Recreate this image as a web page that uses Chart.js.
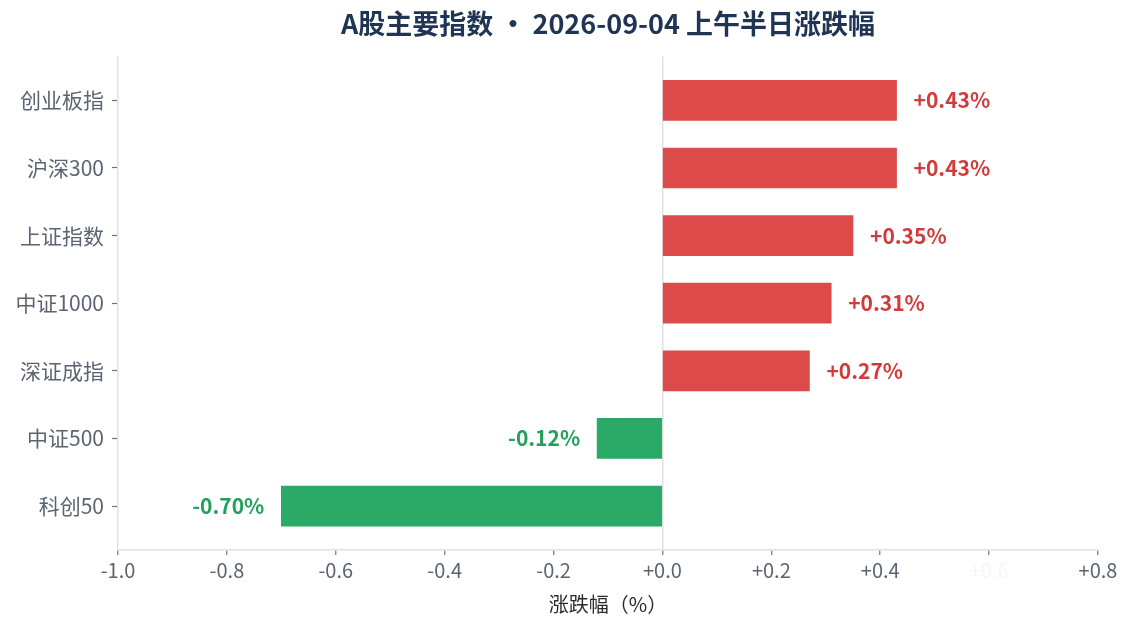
<!DOCTYPE html>
<html lang="zh-CN">
<head>
<meta charset="UTF-8" />
<title>A股主要指数 上午半日涨跌幅</title>
<script src="https://cdn.jsdelivr.net/npm/chart.js"></script>
<style>
  html, body { margin: 0; padding: 0; background: #ffffff; }
  #wrap { width: 1133px; height: 629px; }
</style>
</head>
<body>
<div id="wrap"><canvas id="chart" width="1133" height="629"></canvas></div>
<script>
// data
const categories = ["创业板指", "沪深300", "上证指数", "中证1000", "深证成指", "中证500", "科创50"];
const changes = [0.43, 0.43, 0.35, 0.31, 0.27, -0.12, -0.70];
const xTickValues = [-1.0, -0.8, -0.6, -0.4, -0.2, 0.0, 0.2, 0.4, 0.6, 0.8];
const hiddenTick = 0.6; // this tick label is washed out in the original

const FONT = "'Noto Sans CJK SC', 'Noto Sans', sans-serif";
const RED = "#dc4a4a";
const GREEN = "#2aaa66";
const RED_TXT = "#d33b3b";
const GREEN_TXT = "#22a05c";
const TICK_TXT = "#5b6572";

function fmtSigned(v, d) {
  const s = v.toFixed(d);
  return v >= 0 ? "+" + s : s;
}

// value labels beside each bar
const valueLabels = {
  id: "valueLabels",
  afterDatasetsDraw(chart) {
    const ctx = chart.ctx;
    const meta = chart.getDatasetMeta(0);
    ctx.save();
    ctx.font = "bold 21px " + FONT;
    ctx.textBaseline = "middle";
    meta.data.forEach((bar, i) => {
      const v = changes[i];
      const txt = fmtSigned(v, 2) + "%";
      if (v >= 0) {
        ctx.textAlign = "left";
        ctx.fillStyle = RED_TXT;
        ctx.fillText(txt, bar.x + 17, bar.y);
      } else {
        ctx.textAlign = "right";
        ctx.fillStyle = GREEN_TXT;
        ctx.fillText(txt, bar.x - 17, bar.y);
      }
    });
    ctx.restore();
  }
};

const ctx = document.getElementById("chart").getContext("2d");
new Chart(ctx, {
  type: "bar",
  data: {
    datasets: [{
      data: changes.map((v, i) => ({ x: v, y: i })),
      backgroundColor: changes.map(v => v >= 0 ? RED : GREEN),
      borderWidth: 0,
      barThickness: 40
    }]
  },
  options: {
    indexAxis: "y",
    responsive: false,
    animation: false,
    layout: { padding: { top: 0, right: 35, bottom: 0, left: 0 } },
    plugins: {
      legend: { display: false },
      tooltip: { enabled: false },
      title: {
        display: true,
        fullSize: false,
        text: "A股主要指数 · 2026-09-04 上午半日涨跌幅",
        color: "#1f3553",
        font: { family: FONT, size: 27, weight: "bold" },
        padding: { top: 8, bottom: 16 }
      }
    },
    scales: {
      x: {
        type: "linear",
        min: -1.0,
        max: 0.8,
        afterBuildTicks(scale) {
          scale.ticks = xTickValues.map(v => ({ value: v }));
        },
        afterFit(scale) { scale.height = 79; },
        border: { display: true, color: "#e2e2e2", width: 1.5 },
        grid: {
          drawOnChartArea: true,
          color: c => (c.tick && Math.abs(c.tick.value) < 1e-9) ? "#e2e2e2" : "rgba(0,0,0,0)",
          lineWidth: 1.5,
          tickColor: "#6b7280",
          tickWidth: 1.2,
          tickLength: 5
        },
        ticks: {
          color: c => (Math.abs(c.tick.value - hiddenTick) < 1e-9) ? "#f6f6f6" : TICK_TXT,
          font: { family: FONT, size: 20 },
          padding: 3,
          callback: v => fmtSigned(v, 1)
        },
        title: {
          display: true,
          text: "涨跌幅（%）",
          color: "#2b2b2b",
          font: { family: FONT, size: 20 },
          padding: { top: 0, bottom: 13 }
        }
      },
      y: {
        type: "linear",
        reverse: true,
        offset: false,
        min: -0.65,
        max: 6.65,
        afterFit(scale) { scale.width = 118; },
        border: { display: true, color: "#e2e2e2", width: 1.5 },
        grid: {
          offset: false,
          drawOnChartArea: false,
          color: "rgba(0,0,0,0)",
          tickColor: "#6b7280",
          tickWidth: 1.2,
          tickLength: 6
        },
        ticks: {
          stepSize: 1,
          includeBounds: false,
          color: TICK_TXT,
          font: { family: FONT, size: 21 },
          padding: 8,
          callback: v => Number.isInteger(v) && categories[v] !== undefined ? categories[v] : ""
        }
      }
    }
  },
  plugins: [valueLabels]
});
</script>
</body>
</html>
